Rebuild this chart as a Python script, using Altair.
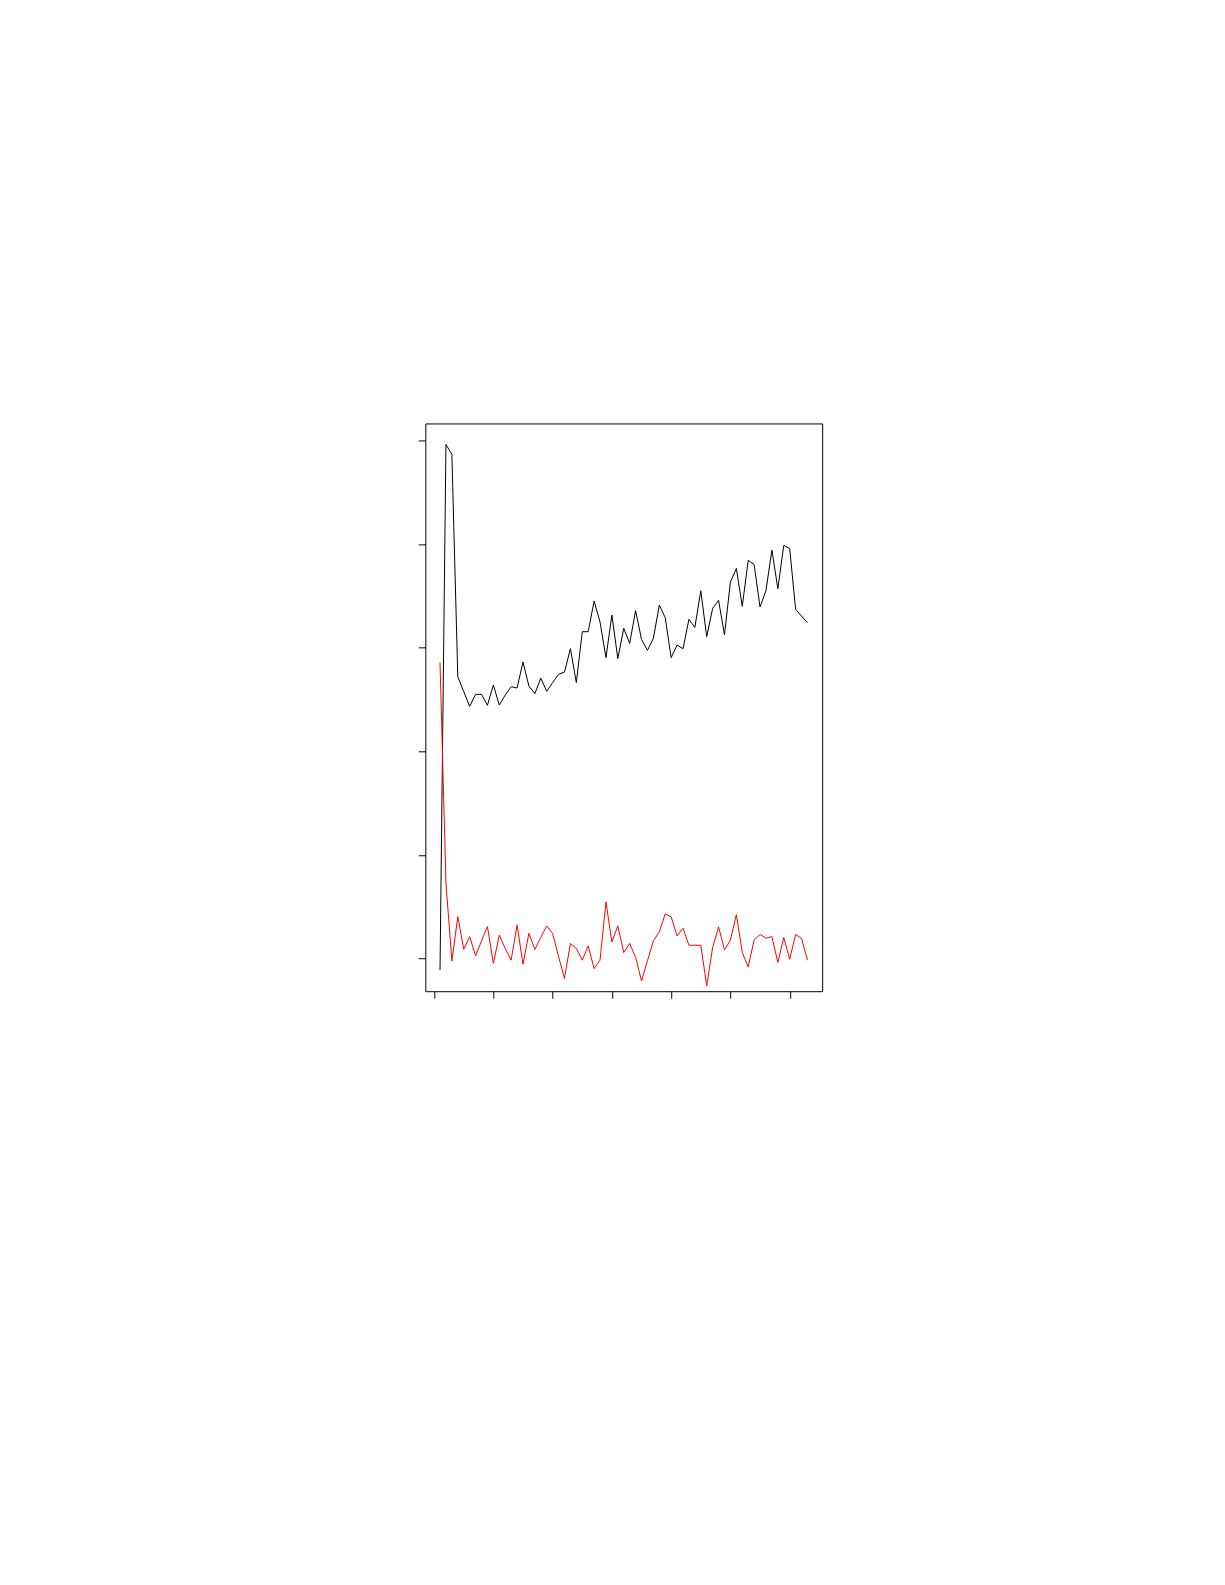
import altair as alt
import pandas as pd

# index of each observation
index = list(range(1, 64))

# black series (in y-tick units)
black_series = [
    -0.113, 4.964, 4.868, 2.722, 2.577, 2.435, 2.551, 2.551, 2.445, 2.641,
    2.448, 2.544, 2.625, 2.612, 2.863, 2.631, 2.558, 2.708, 2.580, 2.664,
    2.744, 2.766, 2.992, 2.664, 3.156, 3.156, 3.452, 3.249, 2.905, 3.317,
    2.896, 3.188, 3.043, 3.359, 3.082, 2.976, 3.092, 3.413, 3.292, 2.905,
    3.027, 2.992, 3.275, 3.198, 3.552, 3.108, 3.381, 3.459, 3.127, 3.635,
    3.767, 3.401, 3.845, 3.803, 3.394, 3.555, 3.944, 3.571, 3.989, 3.960,
    3.372, 3.307, 3.243,
]

# red series
red_series = [
    2.857, 0.727, -0.023, 0.405, 0.090, 0.212, 0.025, 0.170, 0.309, -0.048,
    0.225, 0.097, -0.016, 0.324, -0.055, 0.244, 0.087, 0.203, 0.315, 0.241,
    0.019, -0.193, 0.145, 0.097, -0.016, 0.122, -0.097, -0.016, 0.546, 0.160,
    0.315, 0.058, 0.145, 0.010, -0.216, -0.023, 0.170, 0.257, 0.431, 0.402,
    0.218, 0.292, 0.128, 0.128, 0.128, -0.264, 0.106, 0.305, 0.083, 0.177,
    0.425, 0.058, -0.081, 0.177, 0.232, 0.196, 0.212, -0.039, 0.203, -0.007,
    0.232, 0.193, -0.016,
]

x_ticks = [0, 10, 20, 30, 40, 50, 60]
y_ticks = [0, 1, 2, 3, 4, 5]

# R-style 4% axis expansion, y range set by the black series only
xmin, xmax = min(index), max(index)
xr = xmax - xmin
x_domain = [xmin - 0.04 * xr, xmax + 0.04 * xr]
ymin, ymax = min(black_series), max(black_series)
yr = ymax - ymin
y_domain = [ymin - 0.04 * yr, ymax + 0.04 * yr]

df_black = pd.DataFrame({"x": index, "y": black_series})
df_red = pd.DataFrame({"x": index, "y": red_series})

x_enc = alt.X(
    "x:Q",
    scale=alt.Scale(domain=x_domain, nice=False, zero=False),
    axis=alt.Axis(values=x_ticks, labels=False, title=None, domain=False,
                  grid=False, ticks=True, tickSize=7, tickColor="black",
                  tickWidth=1),
)
y_enc = alt.Y(
    "y:Q",
    scale=alt.Scale(domain=y_domain, nice=False, zero=False),
    axis=alt.Axis(values=y_ticks, labels=False, title=None, domain=False,
                  grid=False, ticks=True, tickSize=7, tickColor="black",
                  tickWidth=1),
)

black_line = alt.Chart(df_black).mark_line(
    color="#000000", strokeWidth=1, clip=True
).encode(x=x_enc, y=y_enc)

red_line = alt.Chart(df_red).mark_line(
    color="#FF0000", strokeWidth=1
).encode(x="x:Q", y="y:Q")

chart = (
    alt.layer(black_line, red_line)
    .properties(
        width=397,
        height=568,
        autosize=alt.AutoSizeParams(type="none"),
        padding={"left": 417.5, "top": 415.3, "right": 395, "bottom": 585},
        background="white",
    )
    .configure_view(stroke="black", strokeWidth=1)
)

chart.save("out.html", embed_options={"renderer": "svg", "actions": False})
